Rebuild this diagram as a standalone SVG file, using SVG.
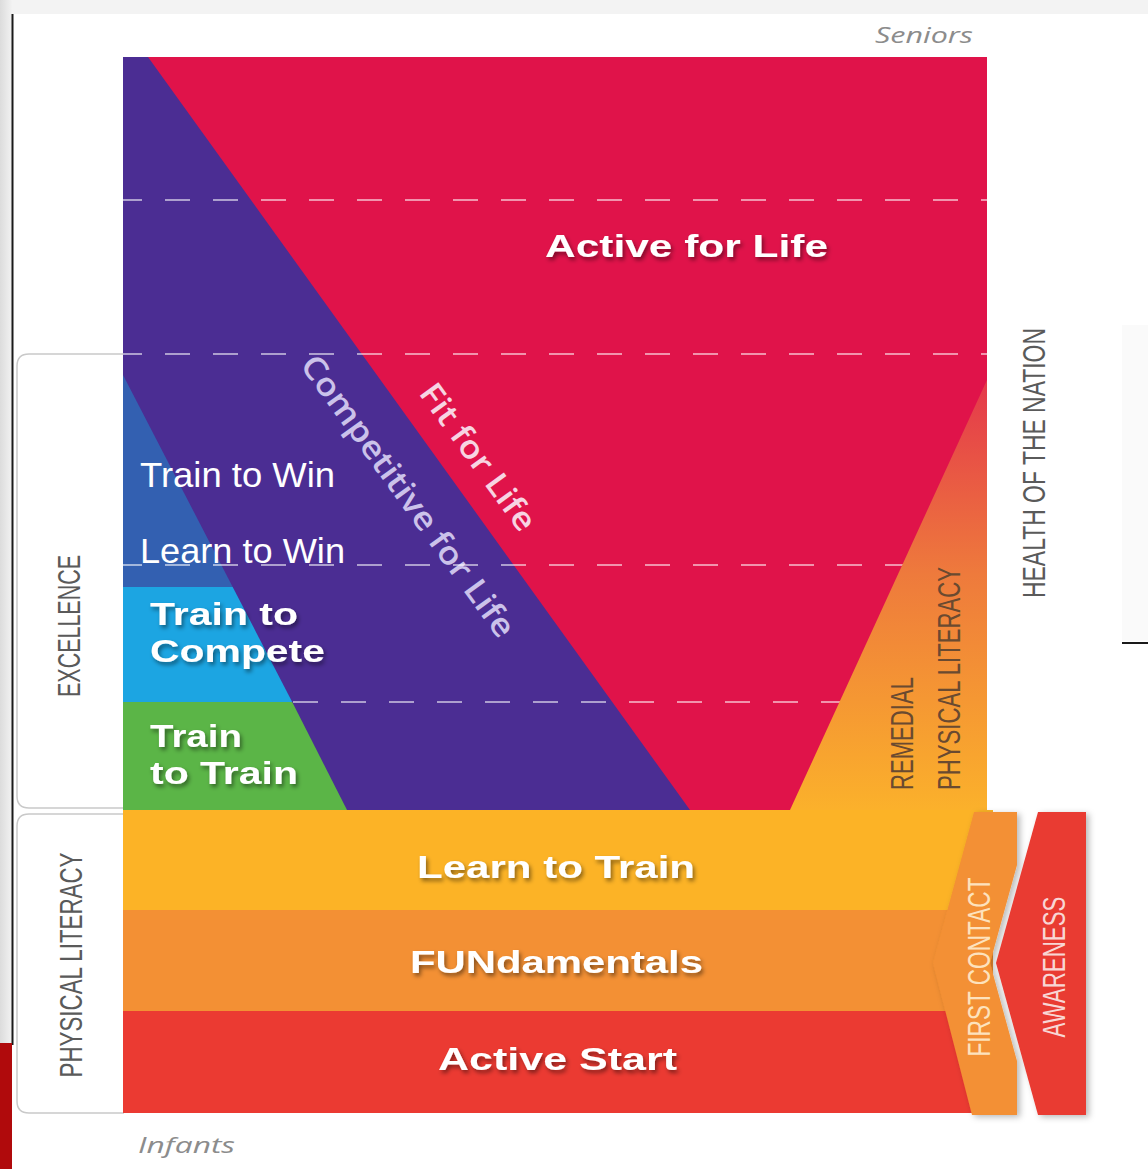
<svg xmlns="http://www.w3.org/2000/svg" width="1148" height="1169" viewBox="0 0 1148 1169">
  <defs>
    <linearGradient id="leftEdge" x1="0" y1="0" x2="1" y2="0">
      <stop offset="0" stop-color="#dcdcdc"/>
      <stop offset="1" stop-color="#f2f2f2"/>
    </linearGradient>
    <linearGradient id="remedialFill" x1="0" y1="380" x2="0" y2="810" gradientUnits="userSpaceOnUse">
      <stop offset="0" stop-color="#e4384b"/>
      <stop offset="0.45" stop-color="#ee7a3c"/>
      <stop offset="1" stop-color="#fbb12b"/>
    </linearGradient>
    <filter id="textShadow" x="-10%" y="-30%" width="120%" height="160%">
      <feDropShadow dx="2" dy="3" stdDeviation="2" flood-color="#000" flood-opacity="0.45"/>
    </filter>
    <filter id="softShadow" x="-20%" y="-5%" width="140%" height="110%">
      <feDropShadow dx="3" dy="2" stdDeviation="3" flood-color="#000" flood-opacity="0.28"/>
    </filter>
    <style>
      .bracket { fill: #ffffff; stroke: #c9c9c9; stroke-width: 1.5; }
      .side { font-family: "Liberation Sans", Arial, sans-serif; font-size: 32px; fill: #5a5a5a; }
      .stage { font-family: "Liberation Sans", Arial, sans-serif; font-weight: 700; font-size: 31px; fill: #ffffff; filter: url(#textShadow); }
      .plain { font-family: "Liberation Sans", Arial, sans-serif; font-size: 35px; fill: #ffffff; }
      .stream { font-family: "Open Sans", "DejaVu Sans", sans-serif; font-weight: 600; font-size: 32px; }
      .age { font-family: "Open Sans", "DejaVu Sans", sans-serif; font-style: italic; font-size: 22px; fill: #8c8c8c; }
      .grid line { stroke: #ffffff; stroke-opacity: 0.55; stroke-width: 2; stroke-dasharray: 25 23; }
    </style>
  </defs>

  <!-- page background and frame -->
  <g id="background">
    <rect x="0" y="0" width="1148" height="1169" fill="#ffffff"/>
    <rect x="0" y="0" width="1148" height="14" fill="#f3f3f3"/>
    <rect x="0" y="0" width="12" height="1169" fill="url(#leftEdge)"/>
    <line x1="12.5" y1="14" x2="12.5" y2="1045" stroke="#1a1a1a" stroke-width="2"/>
    <rect x="0" y="1043" width="12" height="126" fill="#b00a0c"/>
    <rect x="1122" y="325" width="26" height="316" fill="#fafafa"/>
    <line x1="1122" y1="643" x2="1148" y2="643" stroke="#1a1a1a" stroke-width="2"/>
  </g>

  <!-- age axis -->
  <text class="age" x="875" y="43" textLength="98" lengthAdjust="spacingAndGlyphs">Seniors</text>
  <text class="age" x="138" y="1153" textLength="97" lengthAdjust="spacingAndGlyphs">Infants</text>

  <!-- side brackets: open on the right, tucked under the chart -->
  <g id="excellence">
    <path class="bracket" d="M124,354 H29 Q17,354 17,366 V796 Q17,808 29,808 H124"/>
    <text class="side" transform="translate(80,626) rotate(-90)" text-anchor="middle" textLength="142" lengthAdjust="spacingAndGlyphs">EXCELLENCE</text>
  </g>
  <g id="physical-literacy">
    <path class="bracket" d="M124,814 H29 Q17,814 17,826 V1101 Q17,1113 29,1113 H124"/>
    <text class="side" transform="translate(82,965) rotate(-90)" text-anchor="middle" textLength="225" lengthAdjust="spacingAndGlyphs">PHYSICAL LITERACY</text>
  </g>

  <!-- upper stages -->
  <g id="active-for-life">
    <rect x="123" y="57" width="864" height="753" fill="#e0134a"/>
    <text class="stage" x="545" y="257" textLength="283" lengthAdjust="spacingAndGlyphs">Active for Life</text>
  </g>
  <g id="fit-for-life">
    <text class="stream" fill="#f7d4e2" transform="translate(478,457) rotate(54)" x="0" y="11" text-anchor="middle" textLength="174" lengthAdjust="spacingAndGlyphs">Fit for Life</text>
  </g>
  <g id="competitive-for-life">
    <polygon points="123,57 148,57 690,810 123,810" fill="#4b2d93"/>
    <text class="stream" fill="#cbc2ea" transform="translate(408,496) rotate(54)" x="0" y="11" text-anchor="middle" textLength="340" lengthAdjust="spacingAndGlyphs">Competitive for Life</text>
  </g>
  <g id="train-to-win">
    <polygon points="123,375 232.7,587 123,587" fill="#3360b1"/>
    <text class="plain" x="140" y="487" textLength="195" lengthAdjust="spacingAndGlyphs">Train to Win</text>
    <text class="plain" x="140" y="563" textLength="205" lengthAdjust="spacingAndGlyphs">Learn to Win</text>
  </g>

  <!-- age grid (dashed) -->
  <g class="grid" id="age-grid">
    <line x1="123" y1="200" x2="987" y2="200" stroke-dashoffset="6"/>
    <line x1="123" y1="354" x2="987" y2="354" stroke-dashoffset="6"/>
    <line x1="123" y1="565" x2="987" y2="565" stroke-dashoffset="6"/>
  </g>

  <g id="train-to-compete">
    <polygon points="123,587 232.7,587 292.2,702 123,702" fill="#1ca5e2"/>
    <text class="stage">
      <tspan x="150" y="625" textLength="148" lengthAdjust="spacingAndGlyphs">Train to</tspan>
      <tspan x="150" y="662" textLength="175" lengthAdjust="spacingAndGlyphs">Compete</tspan>
    </text>
  </g>
  <g id="train-to-train">
    <polygon points="123,702 292.2,702 347,810 123,810" fill="#5bb547"/>
    <text class="stage">
      <tspan x="150" y="747" textLength="92" lengthAdjust="spacingAndGlyphs">Train</tspan>
      <tspan x="150" y="784" textLength="148" lengthAdjust="spacingAndGlyphs">to Train</tspan>
    </text>
  </g>
  <g class="grid">
    <line x1="293" y1="702" x2="987" y2="702"/>
  </g>

  <g id="remedial-physical-literacy">
    <polygon points="987,380 987,810 790,810" fill="url(#remedialFill)"/>
    <text class="side" style="fill:#6a4a30" transform="translate(913,790) rotate(-90)" textLength="113" lengthAdjust="spacingAndGlyphs">REMEDIAL</text>
    <text class="side" style="fill:#6a4a30" transform="translate(960,790) rotate(-90)" textLength="223" lengthAdjust="spacingAndGlyphs">PHYSICAL LITERACY</text>
  </g>

  <g id="health-of-the-nation">
    <text class="side" transform="translate(1045,463) rotate(-90)" text-anchor="middle" textLength="270" lengthAdjust="spacingAndGlyphs">HEALTH OF THE NATION</text>
  </g>

  <!-- foundation stages -->
  <g id="learn-to-train">
    <rect x="123" y="810" width="870" height="100" fill="#fcb326"/>
    <text class="stage" x="417" y="878" textLength="278" lengthAdjust="spacingAndGlyphs">Learn to Train</text>
  </g>
  <g id="fundamentals">
    <rect x="123" y="910" width="870" height="101" fill="#f39034"/>
    <text class="stage" x="410" y="973" textLength="293" lengthAdjust="spacingAndGlyphs">FUNdamentals</text>
  </g>
  <g id="active-start">
    <rect x="123" y="1011" width="870" height="102" fill="#eb3a32"/>
    <text class="stage" x="438" y="1070" textLength="239" lengthAdjust="spacingAndGlyphs">Active Start</text>
  </g>

  <g id="first-contact">
    <polygon points="974,812 1017,812 1017,865 990,963 1017,1061 1017,1115 972,1115 933,963" fill="#f39034" filter="url(#softShadow)"/>
    <text class="side" style="fill:#fde2bd" transform="translate(990,967) rotate(-90)" text-anchor="middle" textLength="179" lengthAdjust="spacingAndGlyphs">FIRST CONTACT</text>
  </g>
  <g id="awareness">
    <polygon points="1038,812 1086,812 1086,1115 1038,1115 996,963" fill="#e93a30" filter="url(#softShadow)"/>
    <text class="side" style="fill:#f8d6d4" transform="translate(1065,967) rotate(-90)" text-anchor="middle" textLength="141" lengthAdjust="spacingAndGlyphs">AWARENESS</text>
  </g>
</svg>
